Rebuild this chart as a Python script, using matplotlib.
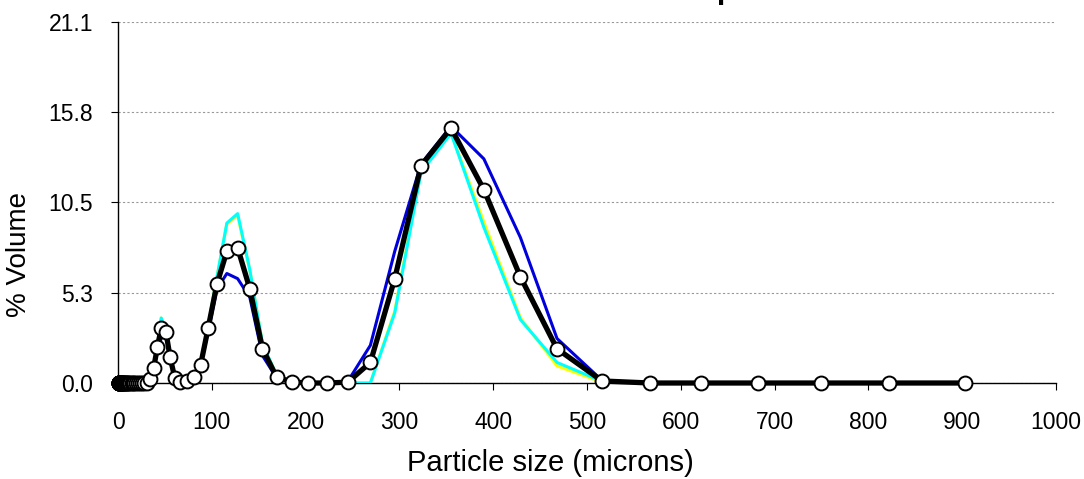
import matplotlib
matplotlib.use("Agg")
import matplotlib.pyplot as plt

plt.rcParams['font.family'] = ['Liberation Sans', 'DejaVu Sans']

# --- data ---
size_um = [0.5, 0.6, 0.7, 0.8, 0.9, 1.0, 1.1, 1.2, 1.3, 1.5, 1.6, 1.8, 2.0, 2.2, 2.4,
           2.6, 2.9, 3.2, 3.5, 3.8, 4.2, 4.6, 5.1, 5.6, 6.2, 6.8, 7.5, 8.2, 9.0, 9.9,
           10.9, 12.0, 13.2, 14.5, 15.9, 17.5, 19.3, 21.2, 23.3, 25.6, 28.1,
           30.9, 34.0, 38.0, 42.0, 46.0, 51.0, 55.5, 60.5, 66.0, 73.0, 80.5, 88.0,
           96.0, 105.5, 116.0, 127.5, 140.5, 154.0, 169.0, 185.0, 203.0, 223.0,
           245.0, 269.0, 295.0, 323.0, 355.0, 390.0, 429.0, 468.0, 516.0, 567.0,
           621.0, 682.0, 749.0, 822.0, 903.0]

n_zero = 41  # sizes below ~30 microns read as zero volume

mean_vol = [0.0] * n_zero + [
    0.02, 0.23, 0.9, 2.1, 3.2, 3.0, 1.5, 0.3, 0.05, 0.12, 0.35, 1.05,
    3.2, 5.8, 7.7, 7.9, 5.5, 2.0, 0.35, 0.06, 0.0, 0.0,
    0.05, 1.2, 6.1, 12.7, 14.9, 11.3, 6.2, 2.0, 0.12, 0.0,
    0.0, 0.0, 0.0, 0.0, 0.0]

run1_vol = [0.0] * n_zero + [
    0.02, 0.2, 0.8, 1.9, 2.6, 2.9, 1.4, 0.3, 0.05, 0.1, 0.3, 1.0,
    3.0, 5.5, 6.4, 6.1, 5.0, 1.6, 0.3, 0.05, 0.0, 0.0,
    0.1, 2.2, 7.7, 12.8, 15.0, 13.1, 8.5, 2.6, 0.15, 0.0,
    0.0, 0.0, 0.0, 0.0, 0.0]

run2_vol = [0.0] * n_zero + [
    0.02, 0.25, 1.0, 2.2, 3.8, 3.1, 1.5, 0.3, 0.05, 0.12, 0.35, 1.1,
    3.3, 6.2, 9.35, 9.9, 6.6, 2.3, 0.45, 0.06, 0.0, 0.0,
    0.0, 0.0, 4.1, 12.3, 14.6, 9.1, 3.7, 1.2, 0.1, 0.0,
    0.0, 0.0, 0.0, 0.0, 0.0]

run3_vol = [0.0] * n_zero + [
    0.02, 0.25, 1.0, 2.2, 3.8, 3.1, 1.5, 0.3, 0.05, 0.12, 0.35, 1.1,
    3.3, 6.2, 9.3, 9.8, 6.6, 2.3, 0.45, 0.06, 0.0, 0.0,
    0.0, 0.0, 4.2, 12.4, 14.6, 9.4, 3.8, 1.0, 0.05, 0.0,
    0.0, 0.0, 0.0, 0.0, 0.0]

y_ticks = [0.0, 5.275, 10.55, 15.825, 21.1]
y_tick_labels = ['0.0', '5.3', '10.5', '15.8', '21.1']
x_ticks = [0, 100, 200, 300, 400, 500, 600, 700, 800, 900, 1000]

fig = plt.figure(figsize=(10.84, 4.79), dpi=100)
ax = fig.add_axes([0.1089, 0.2004, 0.8653, 0.7537])

ax.plot(size_um, run3_vol, color='yellow', linewidth=2.2, zorder=2)
ax.plot(size_um, run2_vol, color='cyan', linewidth=2.2, zorder=3)
ax.plot(size_um, run1_vol, color='#0000dd', linewidth=2.2, zorder=4)
ax.plot(size_um, mean_vol, color='black', linewidth=3.8, marker='o',
        markersize=10, markerfacecolor='white', markeredgecolor='black',
        markeredgewidth=1.4, zorder=5, clip_on=False)

ax.set_xlim(0, 1000)
ax.set_ylim(0, 21.1)
ax.set_xticks(x_ticks)
ax.set_yticks(y_ticks)
ax.set_yticklabels(y_tick_labels)
ax.tick_params(axis='both', labelsize=16.5, direction='out', length=5, width=0.8)
ax.tick_params(axis='x', pad=15)
ax.tick_params(axis='y', pad=13)

ax.yaxis.grid(True, color='#999999', linestyle=(0, (2, 2)), linewidth=0.8)
ax.set_axisbelow(True)
for side in ['top', 'right']:
    ax.spines[side].set_visible(False)
for side in ['left', 'bottom']:
    ax.spines[side].set_linewidth(1.0)

ax.set_xlabel('Particle size (microns)', fontsize=21, labelpad=11, x=0.4606)
ax.set_ylabel('% Volume', fontsize=20, labelpad=12, y=0.355)

# title sits mostly above the visible area, as in the reference
fig.text(0.5995, 1.004, 'Composite', fontsize=22, fontweight='bold',
         ha='left', va='baseline')

fig.savefig('out.png', dpi=100)
